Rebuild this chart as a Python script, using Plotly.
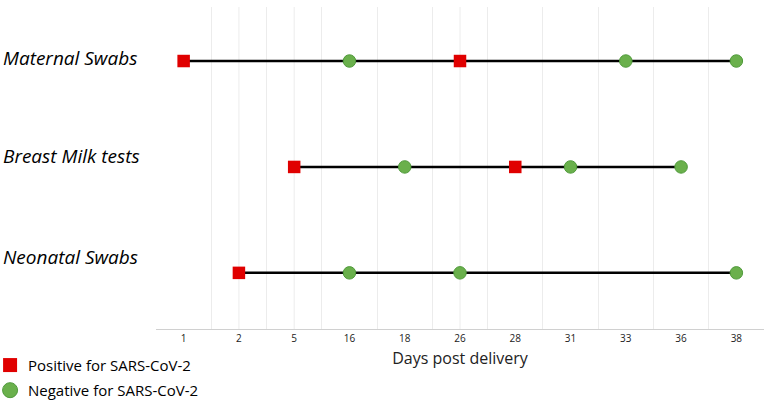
import plotly.graph_objects as go

days = ["1", "2", "5", "16", "18", "26", "28", "31", "33", "36", "38"]
rows = ["Neonatal Swabs", "Breast Milk tests", "Maternal Swabs"]

maternal_pos = ["1", "26"]
maternal_neg = ["16", "33", "38"]
milk_pos = ["5", "28"]
milk_neg = ["18", "31", "36"]
neonatal_pos = ["2"]
neonatal_neg = ["16", "26", "38"]

legend_labels = ["Positive for SARS-CoV-2", "Negative for SARS-CoV-2"]

series = [
    ("Maternal Swabs", maternal_pos, maternal_neg),
    ("Breast Milk tests", milk_pos, milk_neg),
    ("Neonatal Swabs", neonatal_pos, neonatal_neg),
]

RED = "#e00000"
GREEN = "#6ab04c"
GREEN_EDGE = "#4f9a3a"

fig = go.Figure()

for name, pos, neg in series:
    pts = sorted(pos + neg, key=days.index)
    fig.add_trace(go.Scatter(
        x=pts, y=[name] * len(pts), mode="lines",
        line=dict(color="black", width=2.5), hoverinfo="skip",
    ))
    fig.add_trace(go.Scatter(
        x=neg, y=[name] * len(neg), mode="markers", name=legend_labels[1],
        marker=dict(symbol="circle", size=12.5, color=GREEN,
                    line=dict(color=GREEN_EDGE, width=1)),
    ))
    fig.add_trace(go.Scatter(
        x=pos, y=[name] * len(pos), mode="markers", name=legend_labels[0],
        marker=dict(symbol="square", size=12.5, color=RED, line=dict(width=0)),
    ))

# gridlines through the category centres
for d in days:
    fig.add_shape(type="line", xref="x", yref="paper", x0=d, x1=d, y0=0, y1=1,
                  line=dict(color="#ececec", width=1), layer="below")

# row labels, left-aligned and lifted above each line
lift = {"Maternal Swabs": 3, "Breast Milk tests": 11, "Neonatal Swabs": 16}
for r in rows:
    fig.add_annotation(
        x=0, xref="paper", xshift=-155, y=r, yref="y", yshift=lift[r],
        text=f"<i>{r}</i>", showarrow=False, xanchor="left",
        font=dict(size=19, color="black"),
    )

# hand-drawn legend under the row labels
legend_y = [-0.112, -0.19]
fig.add_shape(type="rect", xref="paper", yref="paper", xsizemode="pixel", ysizemode="pixel",
              xanchor=-0.24, yanchor=legend_y[0], x0=-7, x1=7, y0=-7, y1=7,
              fillcolor=RED, line=dict(width=0))
fig.add_shape(type="circle", xref="paper", yref="paper", xsizemode="pixel", ysizemode="pixel",
              xanchor=-0.24, yanchor=legend_y[1], x0=-7.5, x1=7.5, y0=-7.5, y1=7.5,
              fillcolor=GREEN, line=dict(color=GREEN_EDGE, width=1))
for label, ly in zip(legend_labels, legend_y):
    fig.add_annotation(x=-0.213, y=ly, xref="paper", yref="paper", text=label,
                       showarrow=False, xanchor="left", yanchor="middle",
                       font=dict(size=15, color="black"))

fig.update_layout(
    width=768, height=404,
    margin=dict(l=156, r=4, t=7, b=75),
    plot_bgcolor="white", paper_bgcolor="white",
    font=dict(family="Open Sans, sans-serif", color="#222"),
    showlegend=False,
    xaxis=dict(
        type="category", categoryorder="array", categoryarray=days,
        range=[-0.5, len(days) - 0.5], tickson="boundaries",
        showgrid=True, gridcolor="#ececec", gridwidth=1,
        showline=True, linecolor="#d0d0d0", linewidth=1,
        ticks="", tickfont=dict(size=10, color="#222"),
        title=dict(text="Days post delivery", font=dict(size=16, color="#222"), standoff=8),
        zeroline=False, automargin=False,
    ),
    yaxis=dict(
        type="category", categoryorder="array", categoryarray=rows,
        range=[-0.53, 2.51], showticklabels=False, showgrid=False,
        zeroline=False, showline=False, automargin=False,
    ),
)

# drop the page's default body margin so the figure fills the window
fig.write_html("out.html", config={"displayModeBar": False},
               post_script="document.body.style.margin = '0';")
